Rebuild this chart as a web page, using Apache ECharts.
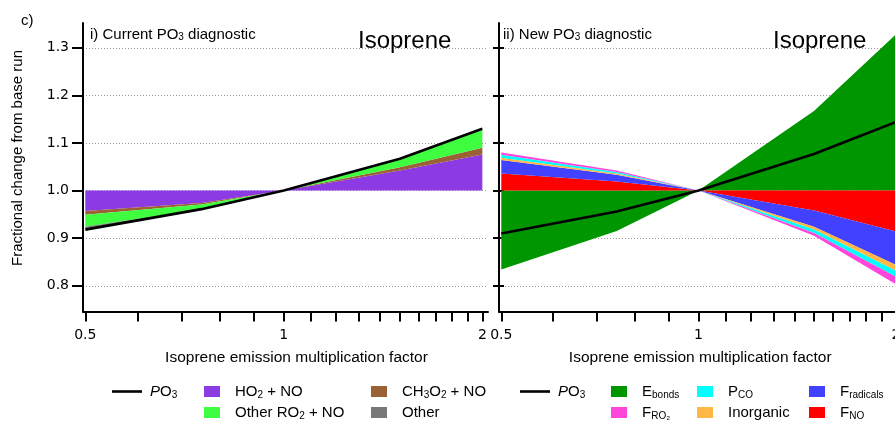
<!DOCTYPE html>
<html><head><meta charset="utf-8">
<script src="https://cdn.jsdelivr.net/npm/echarts@6/dist/echarts.min.js"></script>
<style>html,body{margin:0;padding:0;background:#fff}#c{width:895px;height:422px}</style>
</head><body><div id="c"></div>
<script>
// ---------- data ----------
const factors = [0.5, 0.75, 1, 1.5, 2];
const xTickValues = [0.5,0.6,0.7,0.8,0.9,1,1.1,1.2,1.3,1.4,1.5,1.6,1.7,1.8,1.9,2];
const xLabelValues = [0.5, 1, 2];
const yTickValues = [0.8, 0.9, 1.0, 1.1, 1.2, 1.3];
const baseline = [1, 1, 1, 1, 1];

// panel i) current diagnostic (contributions relative to 1.0)
const po3Current = [0.918, 0.961, 1.0, 1.067, 1.130];
const ho2No      = [-0.043, -0.026, 0, 0.042, 0.076];
const ch3o2No    = [-0.008, -0.003, 0, 0.007, 0.014];
const otherRo2No = [-0.025, -0.010, 0, 0.017, 0.037];
const otherI     = [-0.004, -0.001, 0, 0.001, 0.002];

// panel ii) new diagnostic
const po3New     = [0.910, 0.956, 1.0, 1.077, 1.144];
const eBonds     = [-0.166, -0.085, 0, 0.167, 0.328];
const fNo        = [0.036, 0.019, 0, -0.042, -0.086];
const fRadicals  = [0.028, 0.014, 0, -0.034, -0.070];
const inorganic  = [0.005, 0.003, 0, -0.006, -0.012];
const pCo        = [0.006, 0.003, 0, -0.007, -0.013];
const fRo2       = [0.005, 0.003, 0, -0.006, -0.016];

const legendLabels = {
  'PO3_i': '{i|P}{n|O}{s|3}',
  'HO2 + NO': '{n|HO}{s|2}{n| + NO}',
  'Other RO2 + NO': '{n|Other RO}{s|2}{n| + NO}',
  'CH3O2 + NO': '{n|CH}{s|3}{n|O}{s|2}{n| + NO}',
  'Other': '{n|Other}',
  'PO3_ii': '{i|P}{n|O}{s|3}',
  'E_bonds': '{n|E}{s|bonds}',
  'F_RO2': '{n|F}{s|RO₂}',
  'P_CO': '{n|P}{s|CO}',
  'Inorganic': '{n|Inorganic}',
  'F_radicals': '{n|F}{s|radicals}',
  'F_NO': '{n|F}{s|NO}'
};

// ---------- build ----------
const FONT = 'Liberation Sans';
const TICKFONT = 'DejaVu Sans';
// value first so that it is the stacked dimension; x encoded from column 1
const pairs = vals => factors.map((f, i) => [vals[i], f]);
const ENC = {x:1, y:0};

function baseSeries(name, xi, yi, stack) {
  return {name, type:'line', xAxisIndex:xi, yAxisIndex:yi, stack, stackStrategy:'all', encode:ENC,
    data:pairs(baseline), symbol:'none', silent:true, lineStyle:{width:0, opacity:0}, z:1};
}
function areaSeries(name, color, vals, xi, yi, stack) {
  return {name, type:'line', xAxisIndex:xi, yAxisIndex:yi, stack, stackStrategy:'all', encode:ENC,
    data:pairs(vals), symbol:'none', silent:true, color,
    itemStyle:{color}, lineStyle:{width:0}, areaStyle:{color, opacity:1}, z:2};
}
function lineSeries(name, vals, xi, yi) {
  return {name, type:'line', xAxisIndex:xi, yAxisIndex:yi, encode:ENC, data:pairs(vals), symbol:'none',
    color:'#000', itemStyle:{color:'#000'}, lineStyle:{width:2.6, color:'#000'}, z:5, silent:true};
}

const series = [
  baseSeries('base_i', 0, 0, 'i'),
  areaSeries('HO2 + NO', '#8c3ae4', ho2No, 0, 0, 'i'),
  areaSeries('CH3O2 + NO', '#9b6134', ch3o2No, 0, 0, 'i'),
  areaSeries('Other RO2 + NO', '#3ffd3f', otherRo2No, 0, 0, 'i'),
  areaSeries('Other', '#787878', otherI, 0, 0, 'i'),
  lineSeries('PO3_i', po3Current, 0, 0),

  baseSeries('base_iia', 1, 1, 'iia'),
  areaSeries('E_bonds', '#009600', eBonds, 1, 1, 'iia'),
  baseSeries('base_iib', 1, 1, 'iib'),
  areaSeries('F_NO', '#ff0000', fNo, 1, 1, 'iib'),
  areaSeries('F_radicals', '#4141ff', fRadicals, 1, 1, 'iib'),
  areaSeries('Inorganic', '#ffb845', inorganic, 1, 1, 'iib'),
  areaSeries('P_CO', '#00ffff', pCo, 1, 1, 'iib'),
  areaSeries('F_RO2', '#ff45dc', fRo2, 1, 1, 'iib'),
  lineSeries('PO3_ii', po3New, 1, 1)
];

const rich = {
  n:{fontSize:15, fontFamily:FONT, color:'#000', lineHeight:18},
  i:{fontSize:15, fontFamily:FONT, fontStyle:'italic', color:'#000', lineHeight:18},
  s:{fontSize:10, fontFamily:FONT, color:'#000', lineHeight:10, verticalAlign:'bottom'}
};

const legendSpec = [
  ['PO3_i', 112, 384, 30, 2.6, 3],
  ['HO2 + NO', 204, 384, 16, 11, 10],
  ['Other RO2 + NO', 204, 405, 16, 11, 10],
  ['CH3O2 + NO', 371, 384, 16, 11, 10],
  ['Other', 371, 405, 16, 11, 10],
  ['PO3_ii', 520, 384, 30, 2.6, 3],
  ['E_bonds', 611, 384, 16, 11, 10],
  ['F_RO2', 611, 405, 16, 11, 10],
  ['P_CO', 697, 384, 16, 11, 10],
  ['Inorganic', 697, 405, 16, 11, 10],
  ['F_radicals', 809, 384, 16, 11, 10],
  ['F_NO', 809, 405, 16, 11, 10]
];
const legend = legendSpec.map(([name, left, top, w, h, gap]) => ({
  data:[{name, icon:'rect'}], left, top, padding:0, itemWidth:w, itemHeight:h,
  selectedMode:false, formatter: n => legendLabels[n],
  textStyle:{rich, padding:[0,0,0,gap]}
}));

const Y_MIN = 0.746, Y_MAX = 1.352, X_MIN = 0.496, X_MAX = 2.04;
const fmtX = v => String(Math.round(v * 100) / 100);

function xAxisCfg(gi, namePadLeft) {
  return {type:'log', logBase:2, gridIndex:gi, min:X_MIN, max:X_MAX,
    axisLine:{show:true, onZero:false, lineStyle:{color:'#000', width:2}},
    axisTick:{show:true, inside:false, length:10, customValues:xTickValues, lineStyle:{color:'#000', width:2}},
    axisLabel:{customValues:xLabelValues, formatter:fmtX, margin:17, fontFamily:TICKFONT, fontSize:14, color:'#000'},
    splitLine:{show:false}, minorTick:{show:false},
    name:'Isoprene emission multiplication factor', nameLocation:'middle', nameGap:38,
    nameTextStyle:{fontFamily:FONT, fontSize:15.5, color:'#000', padding:[0,0,0,namePadLeft]}};
}
const splitStyle = {show:true, lineStyle:{color:'#9a9a9a', width:1, type:[1,2]}};

const option = {
  animation:false,
  backgroundColor:'#fff',
  textStyle:{fontFamily:FONT},
  grid:[
    {left:83, top:23, width:405, height:288.5, outerBoundsMode:'none', containLabel:false},
    {left:499, top:23, width:402.5, height:288.5, outerBoundsMode:'none', containLabel:false}
  ],
  xAxis:[xAxisCfg(0, 22), xAxisCfg(1, 0)],
  yAxis:[
    {type:'value', gridIndex:0, min:Y_MIN, max:Y_MAX, position:'left',
      axisLine:{show:true, onZero:false, lineStyle:{color:'#000', width:2}},
      axisTick:{show:true, length:11, customValues:yTickValues, lineStyle:{color:'#000', width:2}},
      axisLabel:{customValues:yTickValues, formatter:v => v.toFixed(1), margin:14, fontFamily:TICKFONT, fontSize:14, color:'#000'},
      splitLine:splitStyle},
    {type:'value', gridIndex:1, min:Y_MIN, max:Y_MAX, position:'left',
      axisLine:{show:true, onZero:false, lineStyle:{color:'#000', width:2}},
      axisTick:{show:true, length:6, customValues:yTickValues, lineStyle:{color:'#000', width:2}},
      axisLabel:{show:false, customValues:yTickValues},
      splitLine:splitStyle},
    {type:'value', gridIndex:1, min:Y_MIN, max:Y_MAX, position:'left', offset:0,
      axisLine:{show:false, onZero:false},
      axisTick:{show:true, inside:true, length:5, customValues:yTickValues, lineStyle:{color:'#000', width:2}},
      axisLabel:{show:false, customValues:yTickValues},
      splitLine:{show:false}}
  ],
  graphic:[
    {type:'text', x:18, y:158, rotation:Math.PI/2, silent:true,
      style:{text:'Fractional change from base run', font:'15px "Liberation Sans"', fill:'#000', align:'center', verticalAlign:'middle'}}
  ],
  title:[
    {text:'c)', left:21, top:13, padding:0, textStyle:{fontFamily:FONT, fontSize:15, fontWeight:'normal', color:'#000'}},
    {text:'i) Current PO{s|3} diagnostic', left:90, top:27, padding:0,
      textStyle:{fontFamily:FONT, fontSize:15, fontWeight:'normal', color:'#000', rich:{s:{fontSize:10, fontFamily:FONT, verticalAlign:'bottom', lineHeight:10}}}},
    {text:'Isoprene', left:358, top:29, padding:0, textStyle:{fontFamily:FONT, fontSize:24, fontWeight:'normal', color:'#000'}},
    {text:'ii) New PO{s|3} diagnostic', left:503, top:27, padding:0,
      textStyle:{fontFamily:FONT, fontSize:15, fontWeight:'normal', color:'#000', rich:{s:{fontSize:10, fontFamily:FONT, verticalAlign:'bottom', lineHeight:10}}}},
    {text:'Isoprene', left:773, top:29, padding:0, textStyle:{fontFamily:FONT, fontSize:24, fontWeight:'normal', color:'#000'}}
  ],
  legend,
  series
};
const chart = echarts.init(document.getElementById('c'), null, {renderer:'canvas'});
chart.setOption(option);
</script></body></html>
